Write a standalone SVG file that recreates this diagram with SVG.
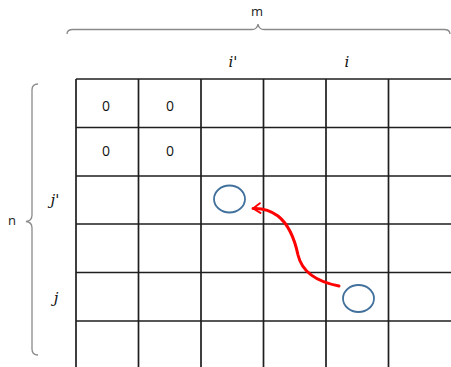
<svg xmlns="http://www.w3.org/2000/svg" width="451" height="367" viewBox="0 0 451 367">
<style>
.grid line{stroke:#1e1e1e;stroke-width:1.7}
.brace{fill:none;stroke:#8a8a8a;stroke-width:1.3}
.lbl{font-family:"Open Sans","Liberation Sans",sans-serif;font-size:13px;fill:#222}
.zero{font-family:"Open Sans","Liberation Sans",sans-serif;font-size:14px;fill:#111;text-anchor:middle}
.math{font-family:"DejaVu Serif","Liberation Serif",serif;font-style:italic;font-size:15px;fill:#111;text-anchor:middle}
.cell{fill:none;stroke:#41719c;stroke-width:1.8}
</style>
<defs>
<marker id="ah" viewBox="0 0 10 10" refX="8" refY="5" markerWidth="4" markerHeight="4" orient="auto" markerUnits="strokeWidth">
<path d="M2,1 L8,5 L2,9" fill="none" stroke="#ff0000" stroke-width="1.6" stroke-linecap="round" stroke-linejoin="round"/>
</marker>
</defs>
<rect width="451" height="367" fill="#fff"/>
<g id="grid" class="grid">
<line x1="76" y1="79" x2="76" y2="367"/>
<line x1="138.5" y1="79" x2="138.5" y2="367"/>
<line x1="201" y1="79" x2="201" y2="367"/>
<line x1="263.5" y1="79" x2="263.5" y2="367"/>
<line x1="326" y1="79" x2="326" y2="367"/>
<line x1="388.5" y1="79" x2="388.5" y2="367"/>
<line x1="76" y1="79" x2="451" y2="79"/>
<line x1="76" y1="127.5" x2="451" y2="127.5"/>
<line x1="76" y1="176" x2="451" y2="176"/>
<line x1="76" y1="224" x2="451" y2="224"/>
<line x1="76" y1="272.5" x2="451" y2="272.5"/>
<line x1="76" y1="321" x2="451" y2="321"/>
</g>
<g id="braces">
<path class="brace" d="M67,34 Q67,29.5 73,29.5 L252,29.5 Q257,29.5 258,24 Q259,29.5 264,29.5 L444,29.5 Q450,29.5 450,34"/>
<path class="brace" d="M38,84 Q32,84 32,90 L32,215 Q32,221 26,221.5 Q32,222 32,228 L32,349 Q32,355 38,355"/>
<text class="lbl" x="257" y="16" text-anchor="middle">m</text>
<text class="lbl" x="12" y="225" text-anchor="middle">n</text>
</g>
<g id="labels">
<text class="math" x="233" y="67">i'</text>
<text class="math" x="347" y="67">i</text>
<text class="math" x="55" y="205">j'</text>
<text class="math" x="56" y="303">j</text>
<text class="zero" x="106" y="111">0</text>
<text class="zero" x="170" y="111">0</text>
<text class="zero" x="106" y="156">0</text>
<text class="zero" x="170" y="156">0</text>
</g>
<g id="cellA"><ellipse class="cell" cx="229.5" cy="199" rx="15.5" ry="13.5"/></g>
<g id="cellB"><ellipse class="cell" cx="358.5" cy="298.5" rx="15.5" ry="13.5"/></g>
<g id="connectors">
<path d="M339,286 C318,282 302,272 298,255 C294,236 288,224 278,216 C270,210 262,208 253,208.5" fill="none" stroke="#ff0000" stroke-width="3" stroke-linecap="round" marker-end="url(#ah)"/>
</g>
</svg>
